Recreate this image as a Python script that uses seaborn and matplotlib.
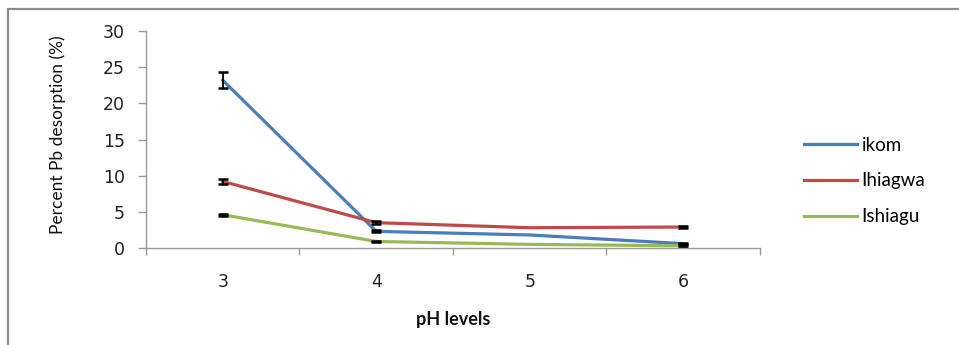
import numpy as np
import pandas as pd
import seaborn as sns
import matplotlib.pyplot as plt
from matplotlib.patches import Rectangle

# =============================================================================
# Data
# =============================================================================
ph_levels = [3, 4, 5, 6]
sites = ['ikom', 'Ihiagwa', 'Ishiagu']

ikom = [23.2, 2.3, 1.8, 0.6]
ihiagwa = [9.2, 3.5, 2.8, 2.9]
ishiagu = [4.6, 0.9, 0.5, 0.3]

ikom_err = [1.1, 0.15, 0.0, 0.1]
ihiagwa_err = [0.4, 0.2, 0.0, 0.1]
ishiagu_err = [0.15, 0.1, 0.0, 0.1]

colors = {'ikom': '#4A7EBB', 'Ihiagwa': '#BE4B48', 'Ishiagu': '#98B954'}

df = pd.DataFrame({
    'pH': ph_levels * 3,
    'Desorption': ikom + ihiagwa + ishiagu,
    'Site': [s for s in sites for _ in ph_levels],
})

# =============================================================================
# Plotting
# =============================================================================
fig = plt.figure(figsize=(9.59, 3.45), dpi=100)
ax = fig.add_axes([0.1522, 0.2812, 0.6403, 0.6289])

sns.lineplot(data=df, x='pH', y='Desorption', hue='Site', hue_order=sites,
             palette=colors, linewidth=2.3, ax=ax)

handles, labels = ax.get_legend_handles_labels()
ax.legend(handles, labels, loc='center left', bbox_to_anchor=(0.829, 0.4754),
          bbox_transform=fig.transFigure, frameon=False, borderpad=0,
          handlelength=2.8, handletextpad=0.25, labelspacing=1.0,
          prop={'family': 'Lato', 'size': 13.5})

# error bars, skipping points with no visible error
for vals, errs in zip([ikom, ihiagwa, ishiagu], [ikom_err, ihiagwa_err, ishiagu_err]):
    xs = [x for x, e in zip(ph_levels, errs) if e > 0]
    ys = [v for v, e in zip(vals, errs) if e > 0]
    es = [e for e in errs if e > 0]
    ax.errorbar(xs, ys, yerr=es, fmt='none', ecolor='black',
                elinewidth=1.3, capsize=3.5, capthick=1.8)

# Axes styling
ax.set_xlim(2.5, 6.5)
ax.set_ylim(0, 30)
ax.set_yticks(np.arange(0, 31, 5))
ax.set_xticks(np.arange(2.5, 6.6, 1.0))
ax.set_xticklabels([])
ax.set_xticks(ph_levels, minor=True)
ax.set_xticklabels([str(p) for p in ph_levels], minor=True)

for side in ['top', 'right']:
    ax.spines[side].set_visible(False)
for side in ['left', 'bottom']:
    ax.spines[side].set_color('#999999')
    ax.spines[side].set_linewidth(1.0)

ax.tick_params(axis='y', which='major', direction='out', length=6, width=1,
               color='#999999', pad=9, labelsize=12.5, labelcolor='#222222')
ax.tick_params(axis='x', which='major', direction='out', length=5, width=1,
               color='#999999')
ax.tick_params(axis='x', which='minor', length=0, pad=18, labelsize=12.5,
               labelcolor='#222222')

ax.set_xlabel('pH levels', fontsize=13, fontweight='bold', family='Lato',
              color='#111111')
ax.xaxis.set_label_coords(0.5, -0.29)
ax.set_ylabel('Percent Pb desorption (%)', fontsize=12.5, family='Lato',
              color='#111111')
ax.yaxis.set_label_coords(-0.13, 0.52)

# Outer chart frame (cropped on the right and bottom)
fig.patches.append(Rectangle((8 / 959, -0.1), 1.2, 1.0 - 9 / 345 + 0.1,
                             transform=fig.transFigure, fill=False,
                             edgecolor='#8c8c8c', linewidth=1.6))

fig.savefig('out.png', dpi=100)
